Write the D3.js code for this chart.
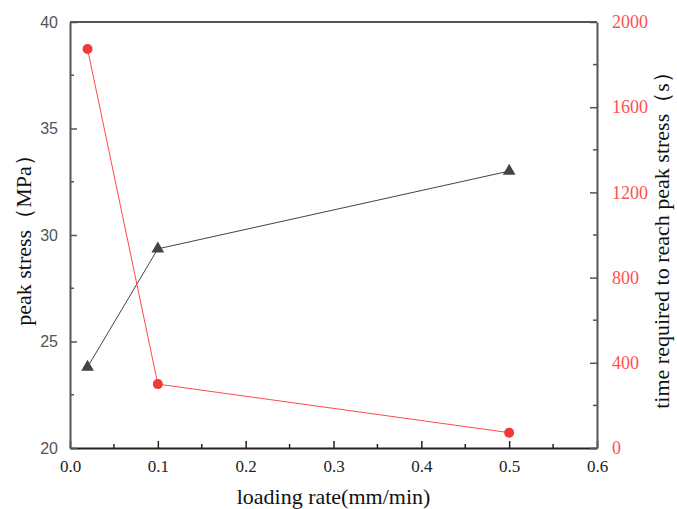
<!DOCTYPE html>
<html>
<head>
<meta charset="utf-8">
<script src="https://cdn.jsdelivr.net/npm/d3@7"></script>
<style>
  body { margin: 0; background: #fff; }
  svg { display: block; }
</style>
</head>
<body>
<svg id="chart"></svg>
<script>
// Data
const loadingRate = [0.02, 0.1, 0.5];
const peakStress = [23.8, 29.35, 33.0];
const timeToPeak = [1873, 300, 72];

const xTicks = [0, 0.1, 0.2, 0.3, 0.4, 0.5, 0.6];
const leftTicks = [20, 25, 30, 35, 40];
const rightTicks = [0, 400, 800, 1200, 1600, 2000];

const width = 677;
const height = 509;
const margin = {top: 22, right: 80, bottom: 61, left: 70};
const axisColor = '#555';
const red = '#f03a3a';
const serif = '"Liberation Serif", "Times New Roman", serif';
const sans = '"Liberation Sans", Arial, sans-serif';

const svg = d3.select("#chart")
    .attr("width", width)
    .attr("height", height);

const x = d3.scaleLinear().domain([0, 0.6]).range([margin.left, width - margin.right]);
const yL = d3.scaleLinear().domain([20, 40]).range([height - margin.bottom, margin.top]);
const yR = d3.scaleLinear().domain([0, 2000]).range([height - margin.bottom, margin.top]);

const x0 = margin.left, x1 = width - margin.right;
const y0 = height - margin.bottom, y1 = margin.top;

// Minor ticks (inward)
const g = svg.append("g");
d3.range(0.05, 0.6, 0.1).forEach(v => {
    g.append("line").attr("x1", x(v)).attr("x2", x(v)).attr("y1", y0).attr("y2", y0 - 4)
        .attr("stroke", "#222").attr("stroke-width", 1.5);
});
d3.range(22.5, 40, 5).forEach(v => {
    g.append("line").attr("x1", x0).attr("x2", x0 + 4).attr("y1", yL(v)).attr("y2", yL(v))
        .attr("stroke", axisColor).attr("stroke-width", 1.5);
});
d3.range(200, 2000, 400).forEach(v => {
    g.append("line").attr("x1", x1).attr("x2", x1 - 4).attr("y1", yR(v)).attr("y2", yR(v))
        .attr("stroke", axisColor).attr("stroke-width", 1.5);
});

// Bottom axis
const xAxis = svg.append("g")
    .attr("transform", `translate(0,${y0})`)
    .call(d3.axisBottom(x).tickValues(xTicks).tickFormat(d3.format(".1f")).tickSizeInner(-7).tickSizeOuter(0).tickPadding(12));
xAxis.select(".domain").attr("stroke", "#222").attr("stroke-width", 2);
xAxis.selectAll(".tick line").attr("stroke", "#222").attr("stroke-width", 1.5);
xAxis.selectAll("text").style("font-family", serif).style("font-size", "17px").attr("fill", "#222");

// Left axis
const lAxis = svg.append("g")
    .attr("transform", `translate(${x0},0)`)
    .call(d3.axisLeft(yL).tickValues(leftTicks).tickSizeInner(-7).tickSizeOuter(0).tickPadding(12));
lAxis.select(".domain").attr("stroke", axisColor).attr("stroke-width", 2);
lAxis.selectAll(".tick line").attr("stroke", axisColor).attr("stroke-width", 1.5);
lAxis.selectAll("text").style("font-family", sans).style("font-size", "16px").attr("fill", "#555");

// Right axis
const rAxis = svg.append("g")
    .attr("transform", `translate(${x1},0)`)
    .call(d3.axisRight(yR).tickValues(rightTicks).tickFormat(d3.format("d")).tickSizeInner(-7).tickSizeOuter(0).tickPadding(15));
rAxis.select(".domain").attr("stroke", axisColor).attr("stroke-width", 2);
rAxis.selectAll(".tick line").attr("stroke", axisColor).attr("stroke-width", 1.5);
rAxis.selectAll("text").style("font-family", serif).style("font-size", "18px").attr("fill", "#ff5050");

// Top border
svg.append("line").attr("x1", x0).attr("x2", x1).attr("y1", y1).attr("y2", y1)
    .attr("stroke", axisColor).attr("stroke-width", 2);

// Peak stress series
const stressPts = loadingRate.map((r, i) => [r, peakStress[i]]);
svg.append("path")
    .datum(stressPts)
    .attr("fill", "none")
    .attr("stroke", "#444")
    .attr("stroke-width", 1)
    .attr("d", d3.line().x(d => x(d[0])).y(d => yL(d[1])));
svg.selectAll(".tri")
    .data(stressPts)
    .enter().append("path")
    .attr("class", "tri")
    .attr("transform", d => `translate(${x(d[0])},${yL(d[1])})`)
    .attr("d", d3.symbol(d3.symbolTriangle, 70))
    .attr("fill", "#444");

// Time series
const timePts = loadingRate.map((r, i) => [r, timeToPeak[i]]);
svg.append("path")
    .datum(timePts)
    .attr("fill", "none")
    .attr("stroke", "#ff4a4a")
    .attr("stroke-width", 1)
    .attr("d", d3.line().x(d => x(d[0])).y(d => yR(d[1])));
svg.selectAll(".dot")
    .data(timePts)
    .enter().append("circle")
    .attr("class", "dot")
    .attr("cx", d => x(d[0]))
    .attr("cy", d => yR(d[1]))
    .attr("r", 5)
    .attr("fill", red);

// Axis titles
const titleStyle = sel => sel
    .attr("text-anchor", "middle")
    .style("font-family", serif)
    .style("font-size", "22px")
    .attr("fill", "#111");

svg.append("text")
    .attr("x", (x0 + x1) / 2)
    .attr("y", 504)
    .call(titleStyle)
    .text("loading rate(mm/min)");

svg.append("text")
    .attr("transform", `translate(31,${(y0 + y1) / 2}) rotate(-90)`)
    .call(titleStyle)
    .text("peak stress（MPa）");

svg.append("text")
    .attr("transform", `translate(669,${(y0 + y1) / 2}) rotate(-90)`)
    .call(titleStyle)
    .text("time required to reach peak stress（s）");
</script>
</body>
</html>
